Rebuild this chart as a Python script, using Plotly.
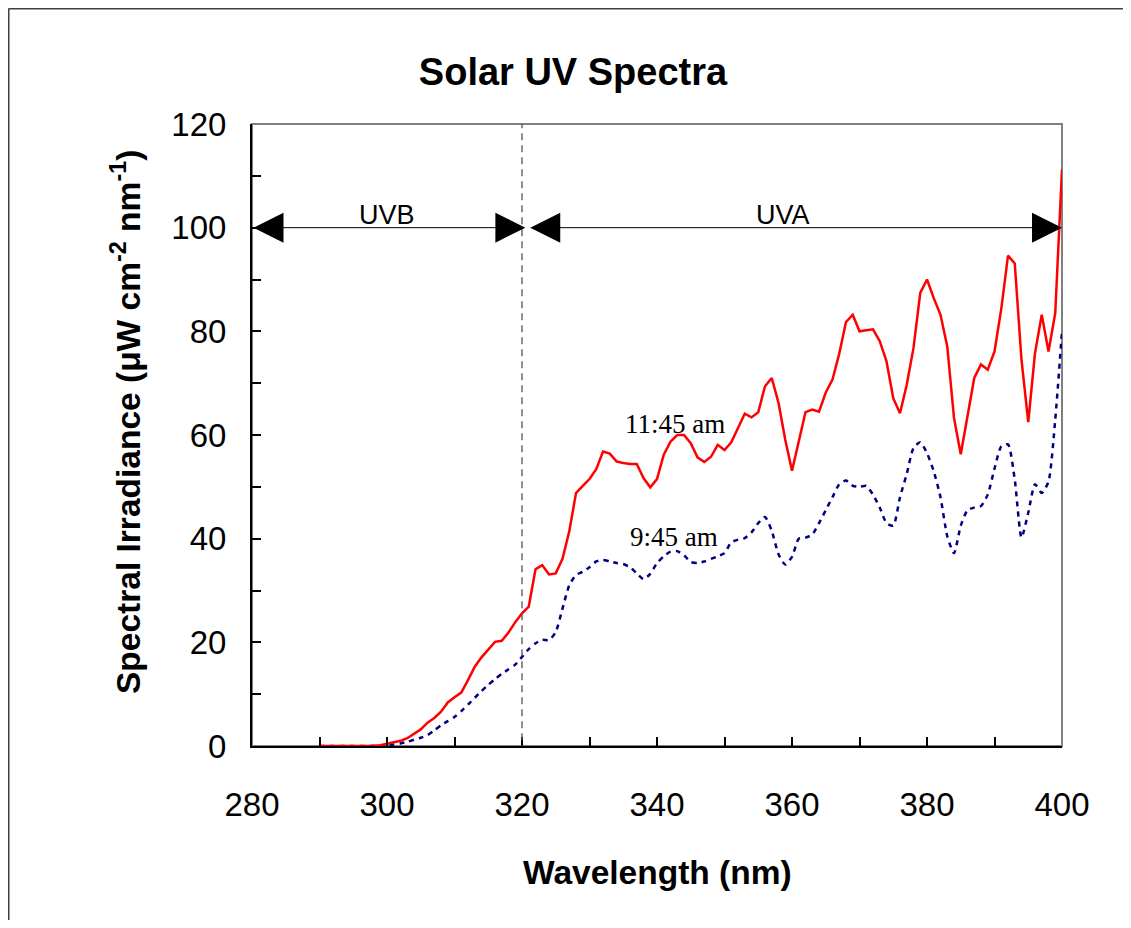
import plotly.graph_objects as go

# ---------------- data ----------------
wavelength = list(range(290, 401))

irr_1145 = [0, 0, 0, 0, 0, 0, 0, 0.02, 0.05, 0.15,
            0.39, 0.64, 1.0, 1.5, 2.3, 3.2, 4.5, 5.4, 6.6, 8.4,
            9.4, 10.3, 12.7, 15.3, 17.1, 18.7, 20.1, 20.3, 21.9, 23.9,
            25.6, 26.9, 34.1, 34.9, 33.1, 33.3, 36.1, 41.4, 48.8, 50.2,
            51.5, 53.4, 56.8, 56.4, 54.9, 54.6, 54.4, 54.4, 51.7, 49.9,
            51.5, 56.2, 58.7, 60.0, 60.0, 58.4, 55.7, 54.8, 55.8, 58.1,
            57.1, 58.6, 61.3, 64.1, 63.4, 64.4, 69.4, 71.0, 66.2, 59.1,
            53.1, 58.5, 64.4, 64.9, 64.5, 68.2, 70.7, 75.7, 81.8, 83.2,
            80.0, 80.2, 80.4, 78.1, 74.2, 67.1, 64.2, 69.7, 76.8, 87.4,
            90.0, 86.4, 83.2, 77.1, 63.3, 56.3, 63.6, 71.0, 73.6, 72.6,
            76.1, 84.3, 94.6, 93.1, 74.5, 62.5, 75.8, 83.2, 76.1, 83.5,
            111.2]

irr_945 = [0, 0, 0, 0, 0, 0, 0, 0, 0.05, 0.1,
           0.2, 0.3, 0.5, 0.8, 1.2, 1.6, 2.1, 3.0, 4.0, 4.8,
           5.6, 6.7, 8.0, 9.3, 10.6, 11.8, 12.9, 13.9, 14.8, 15.7,
           17.2, 18.7, 19.8, 20.5, 20.4, 22.0, 26.5, 31.0, 33.0, 33.6,
           34.5, 35.6, 35.9, 35.6, 35.3, 35.1, 34.5, 33.3, 32.2, 33.2,
           35.3, 36.6, 37.5, 37.6, 36.8, 35.5, 35.3, 35.6, 36.1, 36.6,
           37.2, 39.3, 39.8, 40.1, 41.2, 43.0, 44.2, 41.5, 37.0, 35.0,
           36.5, 40.0, 40.2, 40.8, 43.0, 45.5, 48.0, 50.5, 51.2, 50.2,
           50.0, 50.2, 48.5, 46.0, 43.0, 42.5, 48.0, 52.5, 57.5, 58.6,
           56.5, 53.0, 48.0, 40.5, 37.2, 42.5, 45.5, 46.0, 46.3, 48.5,
           53.5, 57.8, 58.2, 51.4, 40.2, 45.0, 50.5, 48.8, 51.0, 63.0,
           80.0]

uv_boundary = 320
band_names = ["UVB", "UVA"]
band_start = [280, 321]
band_end = [320.5, 400]
band_label_x = [300, 358.6]
band_arrow_y = 100
band_label_y = 102.4

series_names = ["11:45 am", "9:45 am"]
series_label_x = [342.7, 342.5]
series_label_y = [62.2, 40.4]

x_range = [280, 400]
y_range = [0, 120]
x_ticks = [280, 300, 320, 340, 360, 380, 400]
y_ticks = [0, 20, 40, 60, 80, 100, 120]

# ---------------- figure ----------------
W, H = 1115, 912          # page has an 8px body margin
ML, MT, PW, PH = 244, 116, 810, 622

fig = go.Figure()

fig.add_trace(go.Scatter(
    x=wavelength, y=irr_945, mode="lines", name=series_names[1],
    line=dict(color="#000080", width=2.5, dash="5px,5px", shape="spline", smoothing=0.6),
    hoverinfo="x+y",
))
fig.add_trace(go.Scatter(
    x=wavelength, y=irr_1145, mode="lines", name=series_names[0],
    line=dict(color="#FF0000", width=2.5),
    hoverinfo="x+y",
))

# plot-area border (grey), drawn under the black axis lines
fig.add_shape(type="rect", xref="x domain", yref="y domain", x0=0, x1=1, y0=0, y1=1,
              line=dict(color="#808080", width=2), layer="below")

# UVB / UVA boundary
fig.add_shape(type="line", xref="x", yref="y", x0=uv_boundary, x1=uv_boundary,
              y0=-1.2, y1=y_range[1], line=dict(color="#555555", width=1.3, dash="7px,5px"))

annotations = []
for name, xs, xe, xl in zip(band_names, band_start, band_end, band_label_x):
    annotations.append(dict(
        x=xe, y=band_arrow_y, ax=xs, ay=band_arrow_y, xref="x", yref="y", axref="x", ayref="y",
        text="", showarrow=True, arrowside="end+start",
        arrowhead=2, startarrowhead=2, arrowsize=6, startarrowsize=6,
        arrowwidth=1, arrowcolor="#000000", standoff=0, startstandoff=0,
    ))
    annotations.append(dict(
        x=xl, y=band_label_y, xref="x", yref="y", text=name, showarrow=False,
        font=dict(family="Liberation Sans, Arial", size=27, color="#000000"),
        xanchor="center", yanchor="middle",
    ))

for name, xl, yl in zip(series_names, series_label_x, series_label_y):
    annotations.append(dict(
        x=xl, y=yl, xref="x", yref="y", text=name, showarrow=False,
        font=dict(family="Liberation Serif, Times New Roman", size=27, color="#000000"),
        xanchor="center", yanchor="middle",
    ))

# axis titles
annotations.append(dict(
    x=0.501, y=-0.2026, xref="paper", yref="paper",
    text="<b>Wavelength (nm)</b>", showarrow=False,
    font=dict(family="Liberation Sans, Arial", size=33.5, color="#000000"),
    xanchor="center", yanchor="middle",
))
annotations.append(dict(
    x=-0.1555, y=0.521, xref="paper", yref="paper", textangle=-90,
    text="<b>Spectral Irradiance (μW cm<sup>-2</sup> nm<sup>-1</sup>)</b>", showarrow=False,
    font=dict(family="Liberation Sans, Arial", size=33.5, color="#000000"),
    xanchor="center", yanchor="middle",
))

# outer chart frame (top and left edges visible)
top_y = 1 + (MT - 0.5) / PH
left_x = -(ML - 0.5) / PW
fig.add_shape(type="line", xref="paper", yref="paper", x0=left_x, x1=1.2, y0=top_y, y1=top_y,
              line=dict(color="#404040", width=2))
fig.add_shape(type="line", xref="paper", yref="paper", x0=left_x, x1=left_x, y0=-0.4, y1=top_y,
              line=dict(color="#404040", width=2))

tickfont = dict(family="Liberation Sans, Arial", size=33, color="#000000")

fig.update_layout(
    width=W, height=H,
    margin=dict(l=ML, r=W - ML - PW, t=MT, b=H - MT - PH, pad=0),
    paper_bgcolor="white", plot_bgcolor="white",
    showlegend=False,
    title=dict(text="<b>Solar UV Spectra</b>", x=(573 - 8) / W, y=1 - (72 - 8) / H,
               xanchor="center", yanchor="middle",
               font=dict(family="Liberation Sans, Arial", size=38, color="#000000")),
    xaxis=dict(range=x_range, tickvals=x_ticks, ticks="inside", ticklen=9, tickwidth=1.5,
               tickcolor="#000000", showline=True, linecolor="#000000", linewidth=2,
               showgrid=False, zeroline=False, tickfont=tickfont, ticklabelstandoff=28,
               minor=dict(dtick=10, ticks="inside", ticklen=9, tickwidth=1.5, tickcolor="#000000", showgrid=False)),
    yaxis=dict(range=y_range, tickvals=y_ticks, ticks="inside", ticklen=9, tickwidth=1.5,
               tickcolor="#000000", showline=True, linecolor="#000000", linewidth=2,
               showgrid=False, zeroline=False, tickfont=tickfont, ticklabelstandoff=17,
               minor=dict(dtick=10, ticks="inside", ticklen=9, tickwidth=1.5, tickcolor="#000000", showgrid=False)),
    annotations=annotations,
)

fig.write_html("out.html")
